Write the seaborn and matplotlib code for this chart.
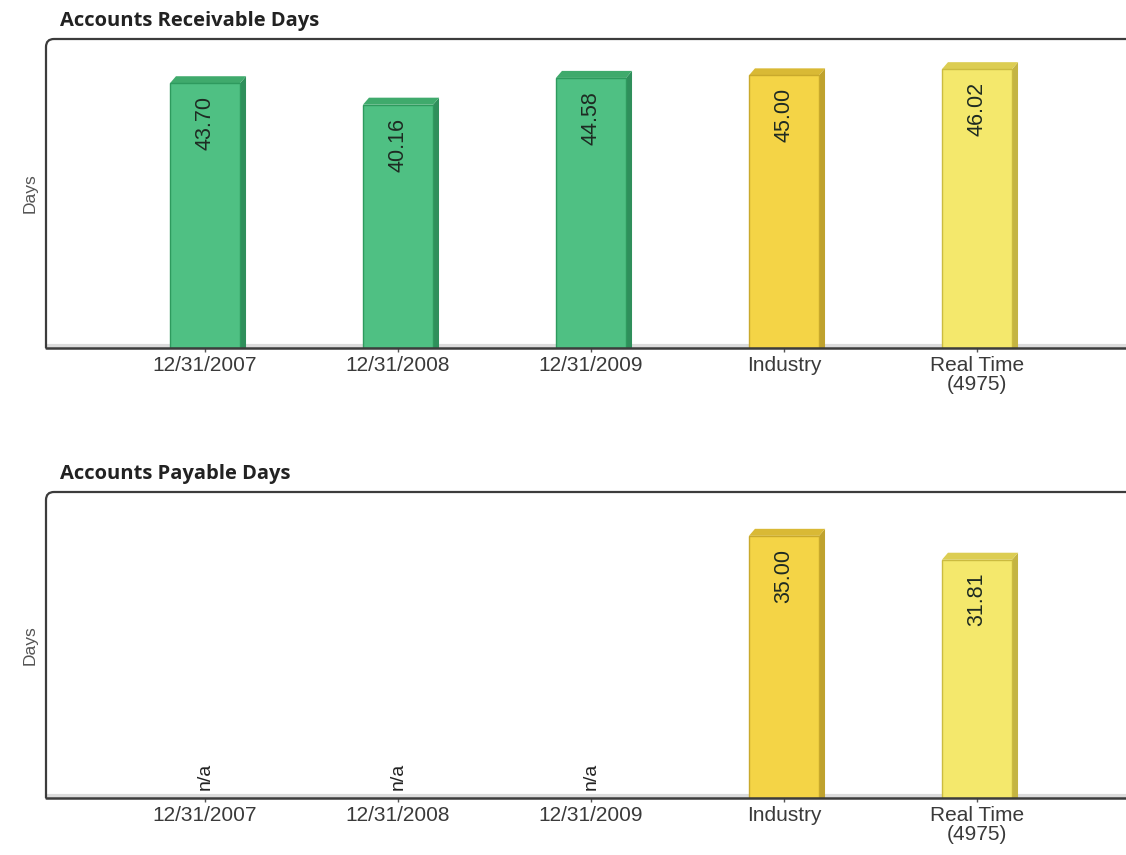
import numpy as np
import pandas as pd
import matplotlib
matplotlib.use("Agg")
import matplotlib.pyplot as plt
from matplotlib.patches import Polygon, PathPatch
from matplotlib.path import Path
import seaborn as sns

# ---- data ----
categories = ["12/31/2007", "12/31/2008", "12/31/2009", "Industry", "Real Time\n(4975)"]
receivable_days = [43.70, 40.16, 44.58, 45.00, 46.02]
payable_days = [np.nan, np.nan, np.nan, 35.00, 31.81]
panel_titles = ["Accounts Receivable Days", "Accounts Payable Days"]
y_label = "Days"

front_colors = ["#4fc083", "#4fc083", "#4fc083", "#f4d446", "#f4e86c"]
side_colors = ["#2f8f5b", "#2f8f5b", "#2f8f5b", "#bfa22e", "#c4b443"]
top_colors = ["#3faa6c", "#3faa6c", "#3faa6c", "#d9b935", "#dccd52"]
edge_colors = ["#2e9a5e", "#2e9a5e", "#2e9a5e", "#c9a92c", "#cbbb40"]

sns.set_style("white")
plt.rcParams["font.family"] = ["Liberation Sans", "DejaVu Sans"]

W, H = 1126, 855
fig = plt.figure(figsize=(W / 100, H / 100), dpi=100)

# panel geometry in pixels: (top, bottom, ymax)
panels = [(39, 348, 51.0), (492, 798, 40.85)]
left_px = 46
first_center_px, step_px = 205, 193
x_lo = (left_px - first_center_px) / step_px
x_hi = (W - first_center_px) / step_px

for (top_px, bot_px, ymax), values, title in zip(panels, [receivable_days, payable_days], panel_titles):
    ax = fig.add_axes([left_px / W, (H - bot_px) / H, (W - left_px) / W, (bot_px - top_px) / H])
    df = pd.DataFrame({"category": categories, "days": values})
    sns.barplot(data=df, x="category", y="days", hue="category", palette=front_colors,
                width=0.363, legend=False, ax=ax, saturation=1)
    ax.set_xlim(x_lo, x_hi)
    ax.set_ylim(0, ymax)

    # pixel -> data scale for the 3D extrusion
    ppx = step_px
    ppy = (bot_px - top_px) / ymax
    dx = 6 / ppx
    dy = 7 / ppy

    # floor shadow line just above the baseline
    ax.axhline(2.2 / ppy, color="#dcdcdc", lw=3, zorder=0.5)

    # map each drawn bar to its category slot
    bars = {int(round(p.get_x() + p.get_width() / 2)): p for p in ax.patches}

    for i, v in enumerate(values):
        if np.isnan(v) or i not in bars:
            ax.text(i, 8 / ppy, "n/a", rotation=90, ha="center", va="bottom",
                    fontsize=14, color="#222222")
            continue
        patch = bars[i]
        x0 = patch.get_x()
        x1 = x0 + patch.get_width()
        h = patch.get_height()
        patch.set_edgecolor(edge_colors[i])
        patch.set_linewidth(1.0)
        patch.set_zorder(3)
        side = Polygon([(x1, 0), (x1 + dx, 0), (x1 + dx, h + dy), (x1, h)],
                       closed=True, facecolor=side_colors[i], edgecolor="none", zorder=2.9)
        topf = Polygon([(x0, h), (x0 + dx, h + dy), (x1 + dx, h + dy), (x1, h)],
                       closed=True, facecolor=top_colors[i], edgecolor="none", zorder=2.9)
        ax.add_patch(side)
        ax.add_patch(topf)
        ax.text(i, h - 13 / ppy, f"{v:.2f}", rotation=90, ha="center", va="top",
                fontsize=15.5, color="#1e2a22")

    # frame: left, top (rounded corner) and baseline
    for s in ax.spines.values():
        s.set_visible(False)
    rx = 8 / (W - left_px)
    ry = 8 / (bot_px - top_px)
    verts = [(0, 0), (0, 1 - ry), (0, 1), (rx, 1), (1.02, 1)]
    codes = [Path.MOVETO, Path.LINETO, Path.CURVE3, Path.CURVE3, Path.LINETO]
    frame = PathPatch(Path(verts, codes), transform=ax.transAxes, facecolor="none",
                      edgecolor="#3c3c3c", lw=1.6, clip_on=False, zorder=5)
    ax.add_patch(frame)
    ax.axhline(0, color="#3c3c3c", lw=1.8, zorder=5, clip_on=False)

    ax.set_yticks([])
    ax.tick_params(axis="x", length=3, width=1, color="#555555", pad=3,
                   labelsize=15, labelcolor="#3a3a3a", bottom=True)
    for lbl in ax.get_xticklabels():
        lbl.set_linespacing(0.95)
    ax.set_xlabel("")
    ax.set_ylabel(y_label, fontsize=12.5, color="#555555", labelpad=6)

    fig.text(60 / W, (H - 21 - (top_px - 39)) / H, title, fontsize=14.5, fontweight="bold",
             family=["Open Sans", "DejaVu Sans"], color="#222222", ha="left", va="center")

fig.savefig("out.png", dpi=100)
